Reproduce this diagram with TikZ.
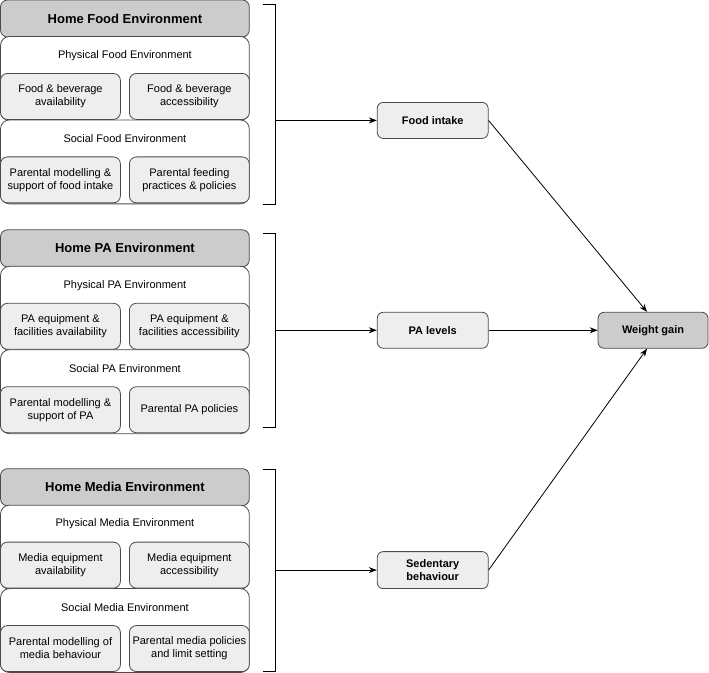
\documentclass[tikz,border=0pt]{standalone}
\usepackage{fontspec}
\setmainfont{Liberation Sans}
\usetikzlibrary{arrows.meta,calc}
\definecolor{hdrgray}{HTML}{CCCCCC}
\definecolor{subgray}{HTML}{EEEEEE}
\definecolor{edgegray}{HTML}{4A4A4A}
\newcommand\envblock[9]{%
\begin{scope}[shift={(0,#2)}]
\node[hdr] (#1h) at (124.5,18) {#3};
\node[outerbox] (#1p) at (124.5,78) {};
\node[lbl] (#1pl) at (124.5,55) {#4};
\node[outerbox] (#1s) at (124.5,161.5) {};
\node[lbl] (#1sl) at (124.5,138) {#7};
\node[subbox] (#1a) at (60,96) {#5};
\node[subbox] (#1b) at (189,96) {#6};
\node[subbox] (#1c) at (60,179.5) {#8};
\node[subbox] (#1d) at (189,179.5) {#9};
\end{scope}}
\begin{document}
\begin{tikzpicture}[x=1pt,y=-1pt,
  every node/.style={font=\fontsize{11}{13}\selectfont},
  hdr/.style={draw=edgegray,fill=hdrgray,rounded corners=7pt,line width=0.8pt,minimum width=249pt,minimum height=37pt,inner sep=0pt,font=\fontsize{13}{15}\selectfont\bfseries},
  outerbox/.style={draw=edgegray,fill=white,rounded corners=9pt,line width=0.8pt,minimum width=249pt,minimum height=84pt,inner sep=0pt},
  subbox/.style={draw=edgegray,fill=subgray,rounded corners=7pt,line width=0.8pt,minimum width=120pt,minimum height=46pt,inner sep=0pt,align=center},
  lbl/.style={inner sep=0pt},
  midbox/.style={draw=edgegray,fill=subgray,rounded corners=6pt,line width=0.8pt,minimum width=111pt,minimum height=36pt,inner sep=0pt,align=center,font=\fontsize{11}{13}\selectfont\bfseries},
  bracket/.style={draw=black,line width=0.8pt},
  conn/.style={draw=black,line width=0.8pt,-{Stealth[length=8pt,width=6pt]}}]
\useasboundingbox (-0.5,-0.5) rectangle (709,672.5);

\envblock{F}{0}{Home Food Environment}{Physical Food Environment}{Food \& beverage\\availability}{Food \& beverage\\accessibility}{Social Food Environment}{Parental modelling \&\\support of food intake}{Parental feeding\\practices \& policies}
\envblock{P}{230}{Home PA Environment}{Physical PA Environment}{PA equipment \&\\facilities availability}{PA equipment \&\\facilities accessibility}{Social PA Environment}{Parental modelling \&\\support of PA}{Parental PA policies}
\envblock{M}{469}{Home Media Environment}{Physical Media Environment}{Media equipment\\availability}{Media equipment\\accessibility}{Social Media Environment}{Parental modelling of\\media behaviour}{Parental media policies\\and limit setting}

% brackets
\draw[bracket] (263,4) -- (275,4) -- (275,204) -- (263,204);
\draw[bracket] (263,233) -- (275,233) -- (275,427) -- (263,427);
\draw[bracket] (263,469) -- (275,469) -- (275,671) -- (263,671);

\node[midbox] (fi) at (432.5,120) {Food intake};
\node[midbox] (pa) at (432.5,330) {PA levels};
\node[midbox,minimum height=37pt] (sb) at (432.5,570) {Sedentary\\behaviour};
\node[midbox,fill=hdrgray,minimum width=110pt] (wg) at (653,330) {Weight gain};

\coordinate (fbr) at (275,120);
\coordinate (pbr) at (275,330);
\coordinate (mbr) at (275,570);

\draw[conn] (fbr) -- (fi);
\draw[conn] (pbr) -- (pa);
\draw[conn] (mbr) -- (sb);
\draw[conn] (fi.east) -- ($(wg.north)+(-6,0)$);
\draw[conn] (pa) -- (wg);
\draw[conn] (sb.east) -- ($(wg.south)+(-6,0)$);
\end{tikzpicture}
\end{document}
